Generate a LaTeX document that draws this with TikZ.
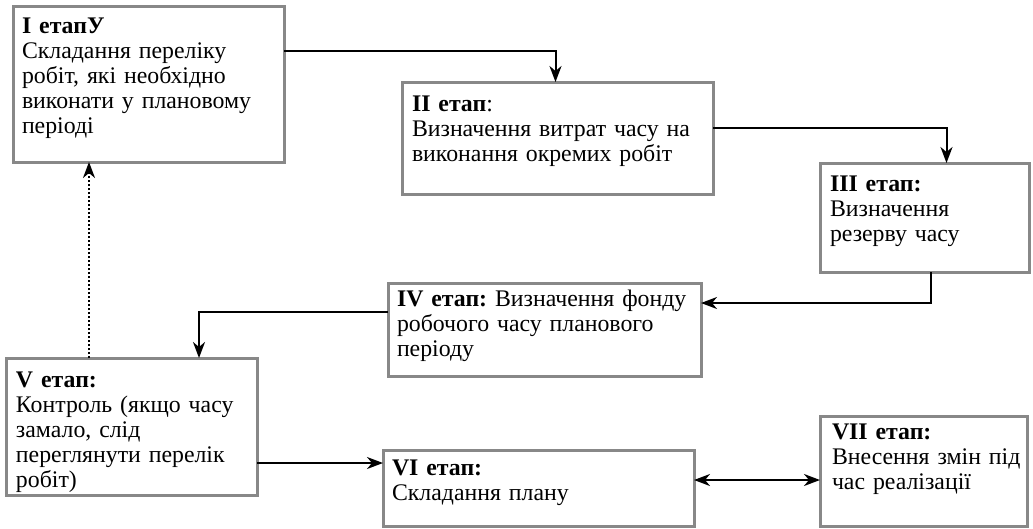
\documentclass[tikz,border=0pt]{standalone}
\usepackage{fontspec}
\setmainfont{Liberation Serif}
\usetikzlibrary{arrows.meta}
\definecolor{boxgray}{RGB}{136,136,136}
\begin{document}
\frenchspacing
\begin{tikzpicture}[x=1pt,y=-1pt,
  box/.style={draw=boxgray,line width=3pt,anchor=north west,inner sep=0pt,outer sep=0pt,fill=white},
  txt/.style={anchor=base west,inner sep=0pt,outer sep=0pt,align=left,text width=330pt,font=\fontsize{23.8}{25}\selectfont\frenchspacing},
  conn/.style={line width=2pt,-{Stealth[length=16pt,width=12pt,inset=5pt]}},
  dconn/.style={line width=2pt,{Stealth[length=16pt,width=12pt,inset=5pt]}-{Stealth[length=16pt,width=12pt,inset=5pt]}},
  dotconn/.style={line width=2pt,dotted,-{Stealth[length=16pt,width=12pt,inset=5pt]}}]
\useasboundingbox (0,0) rectangle (1033,528);
% boxes
\node[box,minimum width=271pt,minimum height=156pt] (b1) at (13,6) {};
\node[box,minimum width=311pt,minimum height=112pt] (b2) at (402,82) {};
\node[box,minimum width=209pt,minimum height=109pt] (b3) at (820,163) {};
\node[box,minimum width=313pt,minimum height=93pt] (b4) at (388,283) {};
\node[box,minimum width=251pt,minimum height=137pt] (b5) at (6,358) {};
\node[box,minimum width=311pt,minimum height=76pt] (b6) at (383,450) {};
\node[box,minimum width=207pt,minimum height=110pt] (b7) at (820,416) {};
% texts
\node[txt] (t1) at (22,33) {\textbf{I етапУ}\\Складання переліку\\робіт, які необхідно\\виконати у плановому\\періоді};
\node[txt] (t2) at (412,111) {\textbf{II етап}:\\Визначення витрат часу на\\виконання окремих робіт};
\node[txt] (t3) at (830,191) {\textbf{III етап:}\\Визначення\\резерву часу};
\node[txt] (t4) at (397,306) {\textbf{IV етап:} Визначення фонду\\робочого часу планового\\періоду};
\node[txt] (t5) at (16,387) {\textbf{V етап:}\\Контроль (якщо часу\\замало, слід\\переглянути перелік\\робіт)};
\node[txt] (t6) at (392,475) {\textbf{VI етап:}\\Складання плану};
\node[txt] (t7) at (832,439) {\textbf{VII етап:}\\Внесення змін під\\час реалізації};
% connector anchors
\coordinate (p5) at ([yshift=-36.5pt]b5.east);
\coordinate (p6) at ([yshift=8pt]b6.east);
\coordinate (p5n) at ([xshift=-42.5pt]b5.north);
% connectors
\draw[conn] ([yshift=-45pt]b1.north east) -| ([xshift=-2pt]b2.north);
\draw[conn] ([yshift=-46pt]b2.north east) -| ([xshift=22pt]b3.north);
\draw[conn] ([xshift=6.5pt]b3.south) |- ([yshift=26.5pt]b4.east);
\draw[conn] ([yshift=17.5pt]b4.west) -| ([xshift=67.5pt]b5.north);
\draw[dotconn] (p5n) -- (p5n |- b1.south);
\draw[conn] (p5) -- (b6.west |- p5);
\draw[dconn] (p6) -- (b7.west |- p6);
\end{tikzpicture}
\end{document}
